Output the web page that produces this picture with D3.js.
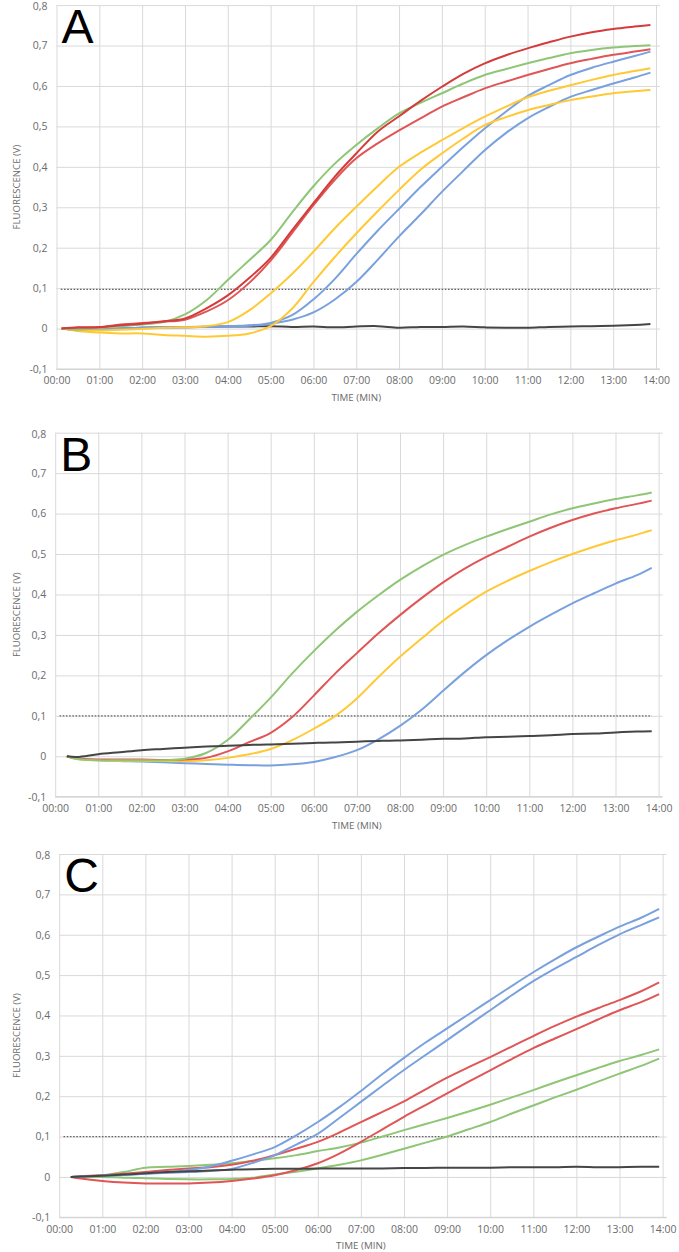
<!DOCTYPE html>
<html><head><meta charset="utf-8">
<script src="https://cdn.jsdelivr.net/npm/d3@7"></script>
<style>body{margin:0;background:#fff}svg{display:block}</style>
</head><body>
<svg id="c" width="679" height="1252"></svg>
<script>
// ---------- data (time in minutes, fluorescence in V) ----------
const xTicks = [0,1,2,3,4,5,6,7,8,9,10,11,12,13,14];
const yTicks = [-0.1,0,0.1,0.2,0.3,0.4,0.5,0.6,0.7,0.8];

const timeA = [0.12,0.5,1,1.5,2,2.5,3,3.5,4,4.5,5,5.5,6,6.5,7,7.5,8,8.5,9,9.5,10,10.5,11,11.5,12,12.5,13,13.5,13.87];
const greenA   = [0,-0.003,0.002,0.006,0.01,0.016,0.035,0.07,0.12,0.169,0.219,0.287,0.352,0.408,0.454,0.495,0.532,0.558,0.582,0.606,0.627,0.642,0.656,0.669,0.681,0.689,0.695,0.699,0.701];
const redA1    = [0,0.003,0.004,0.008,0.012,0.018,0.025,0.05,0.082,0.125,0.175,0.243,0.31,0.376,0.433,0.487,0.525,0.563,0.598,0.63,0.656,0.676,0.693,0.708,0.722,0.733,0.741,0.747,0.751];
const redA2    = [0,0.002,0.003,0.01,0.014,0.017,0.022,0.042,0.07,0.113,0.168,0.236,0.305,0.368,0.421,0.458,0.49,0.52,0.549,0.572,0.594,0.611,0.627,0.642,0.656,0.667,0.677,0.685,0.691];
const yellowA1 = [0,-0.004,-0.005,-0.003,-0.001,0.002,0.003,0.006,0.016,0.045,0.087,0.135,0.19,0.248,0.301,0.352,0.4,0.435,0.466,0.496,0.524,0.549,0.572,0.588,0.602,0.615,0.627,0.637,0.644];
const yellowA2 = [0,-0.006,-0.01,-0.012,-0.012,-0.016,-0.018,-0.02,-0.018,-0.012,0.006,0.049,0.115,0.177,0.235,0.29,0.343,0.393,0.433,0.47,0.503,0.523,0.54,0.553,0.565,0.574,0.582,0.587,0.59];
const blueA1   = [0,-0.003,-0.002,0,0.002,0.003,0.004,0.005,0.006,0.008,0.014,0.033,0.072,0.123,0.184,0.242,0.296,0.35,0.4,0.449,0.495,0.537,0.575,0.602,0.627,0.645,0.66,0.674,0.685];
const blueA2   = [0,-0.003,-0.002,0,0.002,0.003,0.004,0.004,0.005,0.007,0.012,0.022,0.04,0.072,0.115,0.17,0.228,0.282,0.338,0.39,0.441,0.484,0.52,0.548,0.573,0.59,0.606,0.621,0.633];
const blackA   = [0,-0.004,-0.003,0,0.002,0.003,0.003,0.004,0.005,0.005,0.006,0.004,0.005,0.003,0.005,0.006,0.002,0.004,0.004,0.005,0.003,0.002,0.002,0.004,0.005,0.006,0.007,0.009,0.011];
const thresholdA = 0.097;

const timeB = [0.27,0.5,1,1.5,2,2.5,3,3.5,4,4.5,5,5.5,6,6.5,7,7.5,8,8.5,9,9.5,10,10.5,11,11.5,12,12.5,13,13.5,13.84];
const greenB  = [0,-0.006,-0.01,-0.01,-0.01,-0.01,-0.006,0.008,0.04,0.091,0.145,0.205,0.26,0.311,0.357,0.398,0.436,0.469,0.498,0.522,0.543,0.562,0.58,0.598,0.613,0.625,0.636,0.645,0.652];
const redB    = [0,-0.005,-0.008,-0.008,-0.008,-0.009,-0.008,-0.004,0.012,0.035,0.058,0.097,0.15,0.205,0.255,0.304,0.349,0.391,0.43,0.464,0.493,0.518,0.543,0.565,0.584,0.6,0.613,0.624,0.632];
const yellowB = [0,-0.007,-0.01,-0.011,-0.011,-0.012,-0.012,-0.01,-0.004,0.005,0.018,0.04,0.068,0.1,0.143,0.196,0.246,0.291,0.335,0.373,0.407,0.434,0.458,0.48,0.5,0.518,0.534,0.548,0.559];
const blueB   = [0,-0.007,-0.01,-0.012,-0.013,-0.015,-0.017,-0.019,-0.021,-0.022,-0.023,-0.02,-0.014,-0.002,0.015,0.042,0.075,0.115,0.162,0.208,0.25,0.287,0.32,0.35,0.378,0.403,0.427,0.448,0.466];
const blackB  = [0,-0.002,0.005,0.01,0.015,0.018,0.021,0.024,0.026,0.028,0.029,0.031,0.033,0.034,0.036,0.038,0.039,0.041,0.043,0.044,0.047,0.048,0.05,0.052,0.055,0.056,0.059,0.061,0.062];
const thresholdB = 0.1;

const timeC = [0.27,0.5,1,1.5,2,2.5,3,3.5,4,4.5,5,5.5,6,6.5,7,7.5,8,8.5,9,9.5,10,10.5,11,11.5,12,12.5,13,13.5,13.92];
const blueC1  = [0,0.001,0.003,0.005,0.008,0.012,0.017,0.026,0.04,0.056,0.074,0.103,0.136,0.173,0.213,0.255,0.295,0.333,0.368,0.403,0.438,0.473,0.507,0.539,0.569,0.595,0.62,0.642,0.664];
const blueC2  = [0,0.001,0.003,0.005,0.008,0.01,0.012,0.015,0.02,0.035,0.054,0.08,0.107,0.146,0.186,0.226,0.265,0.302,0.339,0.376,0.413,0.45,0.485,0.516,0.545,0.574,0.601,0.624,0.643];
const redC1   = [0,0.002,0.004,0.008,0.012,0.017,0.021,0.024,0.03,0.04,0.054,0.07,0.087,0.11,0.136,0.161,0.187,0.217,0.246,0.272,0.297,0.323,0.349,0.374,0.397,0.418,0.438,0.46,0.482];
const redC2   = [0,-0.004,-0.01,-0.014,-0.016,-0.016,-0.016,-0.014,-0.01,-0.004,0.004,0.017,0.034,0.058,0.087,0.118,0.149,0.178,0.207,0.236,0.264,0.292,0.319,0.343,0.366,0.39,0.413,0.433,0.453];
const greenC1 = [0,0.001,0.004,0.012,0.023,0.025,0.027,0.03,0.034,0.04,0.046,0.054,0.064,0.073,0.085,0.1,0.116,0.131,0.146,0.162,0.179,0.197,0.215,0.234,0.252,0.27,0.287,0.302,0.316];
const greenC2 = [0,0,0,-0.002,-0.003,-0.005,-0.006,-0.006,-0.005,-0.002,0.006,0.013,0.021,0.03,0.041,0.055,0.07,0.085,0.1,0.118,0.136,0.157,0.177,0.197,0.216,0.236,0.256,0.275,0.293];
const blackC  = [0,0.001,0.003,0.006,0.009,0.012,0.014,0.016,0.018,0.019,0.02,0.02,0.021,0.021,0.021,0.021,0.022,0.022,0.023,0.023,0.023,0.024,0.024,0.024,0.025,0.024,0.024,0.025,0.025];
const thresholdC = 0.1;

// ---------- styles ----------
const COL = {green:"#8fc676", red:"#e05555", redDark:"#d43b3b", yellow:"#ffc935", blue:"#79a1de", black:"#454545"};

const panels = [
  {label:"A", left:56.5, right:656, top:5.1, bottom:369, time:timeA, thr:thresholdA,
   series:[[blackA,COL.black],[blueA2,COL.blue],[blueA1,COL.blue],[yellowA2,COL.yellow],[yellowA1,COL.yellow],[greenA,COL.green],[redA2,COL.red],[redA1,COL.redDark]]},
  {label:"B", left:55.2, right:658.6, top:432.7, bottom:796.7, time:timeB, thr:thresholdB,
   series:[[blueB,COL.blue],[yellowB,COL.yellow],[redB,COL.red],[greenB,COL.green],[blackB,COL.black]]},
  {label:"C", left:59.2, right:662.6, top:854, bottom:1217.3, time:timeC, thr:thresholdC,
   series:[[greenC2,COL.green],[greenC1,COL.green],[redC2,COL.red],[redC1,COL.red],[blueC2,COL.blue],[blueC1,COL.blue],[blackC,COL.black]]}
];

const svg = d3.select("#c");
const fmtY = v => (Math.abs(v) < 1e-9 ? "0" : d3.format(".1f")(v).replace(".", ",").replace("\u2212","-"));
const fmtX = m => String(m).padStart(2,"0") + ":00";
const FONT = "'Open Sans', sans-serif";

panels.forEach(p => {
  const x = d3.scaleLinear().domain([0,14]).range([p.left, p.right]);
  const y = d3.scaleLinear().domain([-0.1,0.8]).range([p.bottom, p.top]);
  const g = svg.append("g");

  // horizontal gridlines + y labels
  const ya = d3.axisLeft(y).tickValues(yTicks).tickFormat(fmtY)
      .tickSize(-(x(14) - x(0) + 4)).tickPadding(9);
  const gy = g.append("g").attr("transform", `translate(${x(0)},0)`).call(ya);
  gy.select(".domain").remove();
  gy.selectAll("line").attr("stroke", "#d9d9d9").attr("stroke-width", 1);
  gy.selectAll("text").attr("fill", "#6b6b6b").style("font-family", FONT).style("font-size", "10.5px")
    .attr("dy", d => d > 0.75 ? "0.42em" : "0.32em");

  // vertical gridlines + x labels
  const xa = d3.axisBottom(x).tickValues(xTicks).tickFormat(fmtX)
      .tickSize(-(p.bottom - p.top)).tickPadding(8);
  const gx = g.append("g").attr("transform", `translate(0,${p.bottom})`).call(xa);
  gx.select(".domain").remove();
  gx.selectAll("line").attr("stroke", "#d9d9d9").attr("stroke-width", 1);
  gx.selectAll("text").attr("fill", "#6b6b6b").style("font-family", FONT).style("font-size", "10.5px");

  // bottom axis line
  g.append("line").attr("x1", x(0)).attr("x2", x(14) + 4).attr("y1", y(-0.1)).attr("y2", y(-0.1))
    .attr("stroke", "#d0d0d0").attr("stroke-width", 1);

  // axis titles
  g.append("text").attr("x", (x(0) + x(14)) / 2).attr("y", p.bottom + 32)
    .attr("text-anchor", "middle").attr("fill", "#6b6b6b")
    .style("font-family", FONT).style("font-size", "9.8px").text("TIME (MIN)");
  g.append("text").attr("transform", `translate(20,${(p.top + p.bottom) / 2}) rotate(-90)`)
    .attr("text-anchor", "middle").attr("fill", "#6b6b6b")
    .style("font-family", FONT).style("font-size", "9.6px").text("FLUORESCENCE (V)");

  // threshold dotted line
  const tEnd = p.time[p.time.length - 1];
  g.append("line").attr("x1", x(0.1)).attr("x2", x(tEnd)).attr("y1", y(p.thr)).attr("y2", y(p.thr))
    .attr("stroke", "#666").attr("stroke-width", 1.2).attr("stroke-dasharray", "1.6,1.6");

  // curves
  const line = d3.line().x((d, i) => x(p.time[i])).y(d => y(d)).curve(d3.curveCatmullRom.alpha(0.5));
  p.series.forEach(([vals, col]) => {
    g.append("path").attr("d", line(vals)).attr("fill", "none")
      .attr("stroke", col).attr("stroke-width", 2).attr("stroke-linejoin", "round");
  });

  // panel letter
  g.append("text").attr("x", x(0) + 5).attr("y", p.top + 38)
    .style("font-family", "'Liberation Sans', Arial, sans-serif").style("font-size", "48px")
    .attr("fill", "#000").text(p.label);
});
</script>
</body></html>
